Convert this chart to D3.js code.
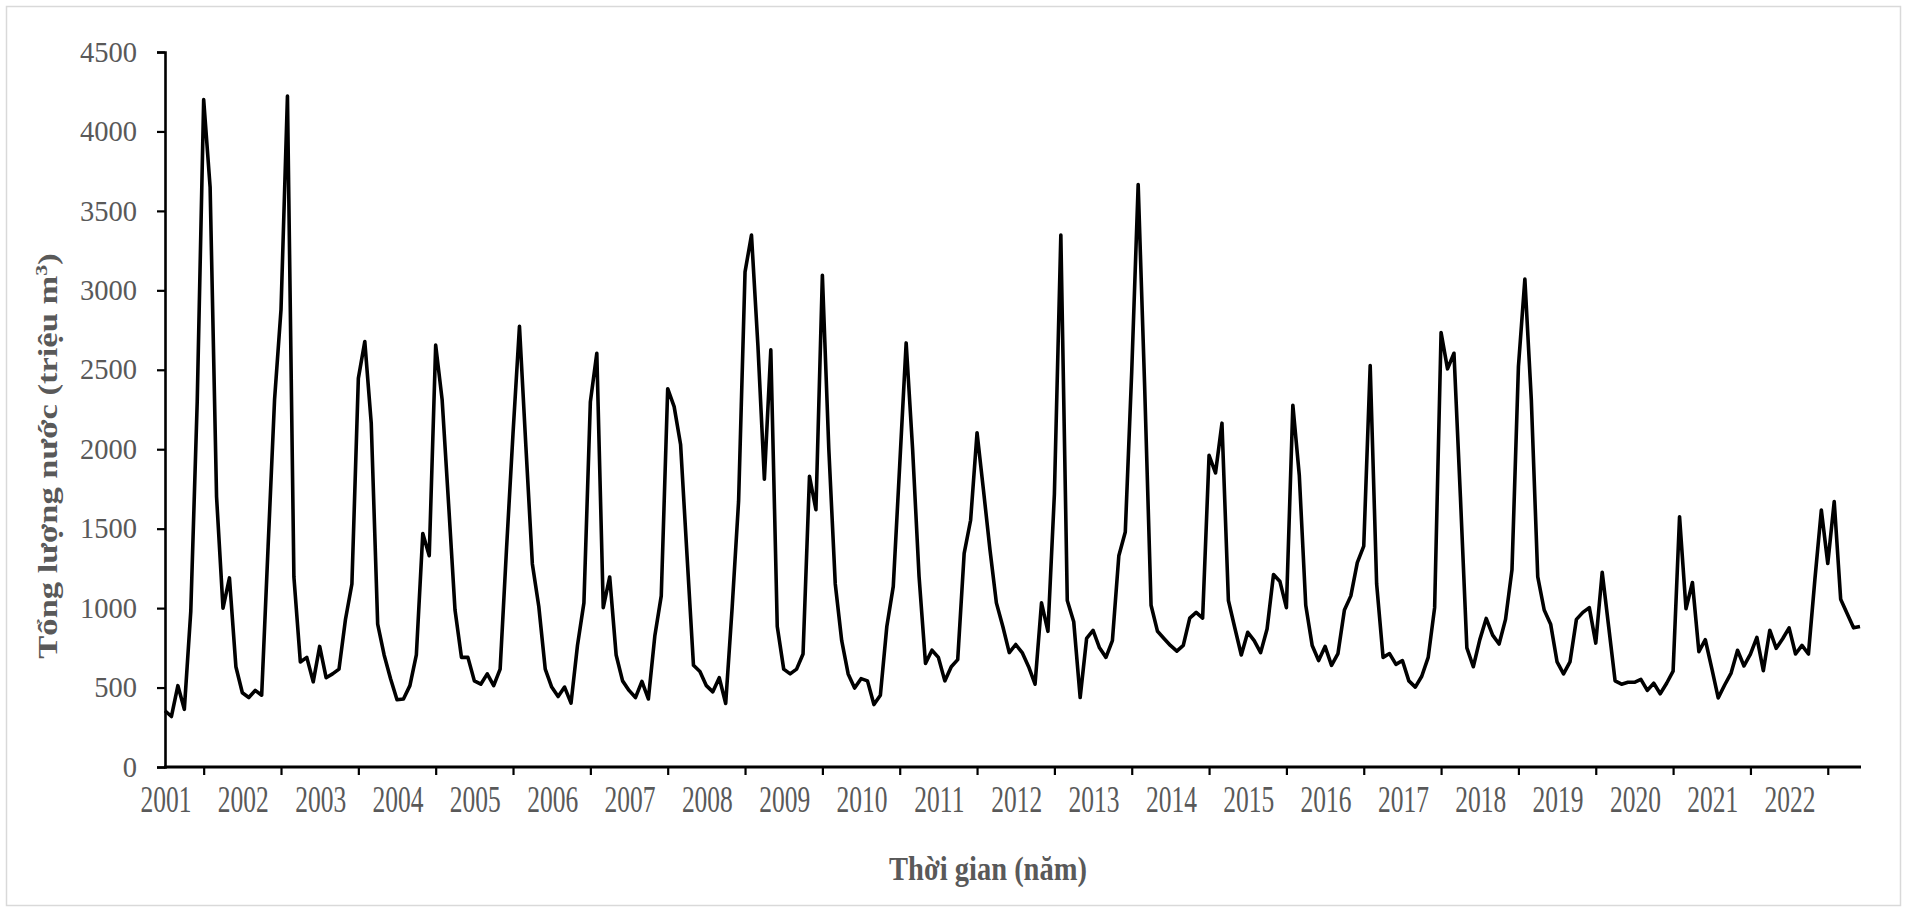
<!DOCTYPE html>
<html>
<head>
<meta charset="utf-8">
<script src="https://cdn.jsdelivr.net/npm/d3@7"></script>
<style>
  body { margin: 0; background: #fff; }
  svg { display: block; }
  text { font-family: "Liberation Serif", "Times New Roman", serif; }
</style>
</head>
<body>
<svg id="chart" width="1907" height="912"></svg>
<script>
// Year labels on the time axis (one per January)
const years = ["2001","2002","2003","2004","2005","2006","2007","2008","2009","2010","2011",
               "2012","2013","2014","2015","2016","2017","2018","2019","2020","2021","2022"];

// Monthly total water volume (million m³), Jan 2001 – Dec 2022, one row per year
const flow = [
  354, 318, 512, 363, 980, 2300, 4200, 3650, 1700, 1000, 1190, 631,
  467, 437, 482, 452, 1390, 2312, 2878, 4223, 1196, 661, 690, 536,
  759, 562, 586, 616, 928, 1152, 2446, 2678, 2164, 899, 705, 556,
  423, 428, 512, 705, 1470, 1330, 2655, 2312, 1658, 988, 690, 690,
  542, 521, 586, 512, 616, 1380, 2100, 2774, 2015, 1278, 1010, 616,
  503, 443, 503, 402, 765, 1033, 2298, 2604, 1003, 1196, 705, 542,
  482, 437, 539, 428, 824, 1077, 2381, 2268, 2030, 1330, 640, 601,
  512, 473, 562, 400, 1003, 1673, 3116, 3348, 2650, 1812, 2625, 884,
  616, 586, 616, 711, 1830, 1619, 3095, 2000, 1152, 795, 586, 497,
  556, 542, 393, 452, 884, 1137, 1900, 2669, 2000, 1200, 652, 735,
  690, 542, 631, 676, 1345, 1553, 2104, 1741, 1369, 1033, 884, 720,
  771, 720, 631, 521, 1033, 854, 1717, 3348, 1048, 914, 437, 809,
  860, 750, 690, 795, 1330, 1479, 2490, 3666, 2400, 1018, 854, 809,
  765, 729, 765, 937, 973, 937, 1961, 1851, 2164, 1048, 875, 705,
  848, 795, 720, 869, 1211, 1167, 1003, 2277, 1836, 1018, 765, 670,
  759, 640, 714, 988, 1077, 1286, 1390, 2527, 1152, 690, 714, 646,
  670, 542, 503, 571, 690, 1003, 2735, 2506, 2604, 1700, 750, 631,
  800, 935, 830, 774, 929, 1241, 2520, 3071, 2312, 1196, 988, 899,
  661, 586, 661, 929, 973, 1003, 780, 1226, 884, 542, 521, 533,
  533, 551, 482, 527, 461, 527, 603, 1575, 996, 1161, 726, 801,
  621, 435, 516, 591, 735, 636, 711, 816, 606, 861, 747, 807,
  876, 711, 765, 711, 1180, 1617, 1281, 1671, 1056, 966, 876, 885
];

// Value axis ticks
const yTicks = [0, 500, 1000, 1500, 2000, 2500, 3000, 3500, 4000, 4500];

const xTitle = "Thời gian (năm)";
const yTitle = "Tổng lượng nước (triệu m";

const svg = d3.select("#chart");
const W = 1907, H = 912;
const plotLeft = 165, plotRight = 1860, plotTop = 52, plotBottom = 767;
const labelGrey = "#595959";

// outer frame
svg.append("rect")
  .attr("x", 6.5).attr("y", 6.5)
  .attr("width", W - 13).attr("height", H - 13)
  .attr("fill", "#fff").attr("stroke", "#d9d9d9").attr("stroke-width", 1.5);

const x = d3.scaleLinear().domain([0, flow.length - 1]).range([plotLeft, plotRight]);
const y = d3.scaleLinear().domain([0, 4500]).range([plotBottom, plotTop]);

// Y axis
const yAxis = svg.append("g")
  .attr("transform", `translate(${plotLeft},0)`)
  .call(d3.axisLeft(y).tickValues(yTicks).tickSize(8).tickPadding(20).tickFormat(d3.format("d")));
yAxis.select(".domain").attr("stroke", "#000").attr("stroke-width", 2.6);
yAxis.selectAll(".tick line").attr("stroke", "#000").attr("stroke-width", 2.2);
yAxis.selectAll(".tick text")
  .attr("fill", labelGrey).attr("font-size", 28.5)
  .style("font-family", "'Liberation Serif', serif");

// X axis: tick marks midway through each year, labels at January
const tickIdx = years.map((_, k) => 12 * k + 6);
const xAxis = svg.append("g")
  .attr("transform", `translate(0,${plotBottom})`)
  .call(d3.axisBottom(x).tickValues(tickIdx).tickSize(8).tickFormat(""));
xAxis.select(".domain").attr("stroke", "#000").attr("stroke-width", 2.8)
  .attr("d", `M${plotLeft - 1},0H${plotRight + 1}`);
xAxis.selectAll(".tick line").attr("stroke", "#000").attr("stroke-width", 2.2);

const xLabels = svg.append("g");
xLabels.selectAll("text")
  .data(years)
  .join("text")
  .attr("transform", (d, k) => `translate(${x(12 * k) + 1},812) scale(1,1.45)`)
  .attr("text-anchor", "middle")
  .attr("font-size", 25.5)
  .attr("fill", labelGrey)
  .text(d => d);

// Series line
const line = d3.line()
  .x((d, i) => x(i))
  .y(d => y(d));

svg.append("path")
  .datum(flow)
  .attr("fill", "none")
  .attr("stroke", "#000")
  .attr("stroke-width", 3.6)
  .attr("stroke-linejoin", "round")
  .attr("d", line);

// Axis titles
svg.append("text")
  .attr("transform", "translate(988,880) scale(1,1.2)")
  .attr("text-anchor", "middle")
  .attr("font-size", 28.5)
  .attr("font-weight", "bold")
  .attr("fill", labelGrey)
  .text(xTitle);

const yt = svg.append("text")
  .attr("transform", "translate(57,456) rotate(-90) scale(1.28,1)")
  .attr("text-anchor", "middle")
  .attr("font-size", 27)
  .attr("font-weight", "bold")
  .attr("fill", labelGrey);
yt.append("tspan").text(yTitle);
yt.append("tspan").attr("font-size", 17).attr("dy", -10).text("3");
yt.append("tspan").attr("dy", 10).text(")");
</script>
</body>
</html>
